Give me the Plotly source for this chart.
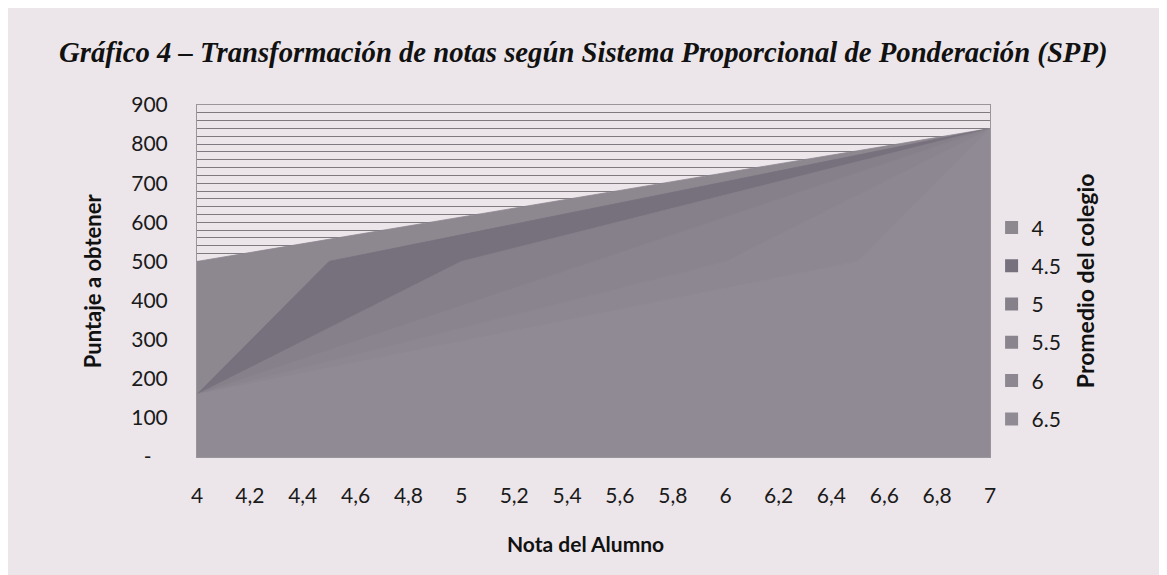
import plotly.graph_objects as go

# Nota del alumno (x) at breakpoints
notas = [4.0, 4.5, 5.0, 5.5, 6.0, 6.5, 7.0]

# Promedio del colegio series (puntaje a obtener)
serie_4 = [500, 557, 613, 670, 727, 783, 840]
serie_45 = [160, 500, 568, 636, 704, 772, 840]
serie_5 = [160, 330, 500, 585, 670, 755, 840]
serie_55 = [160, 273, 387, 500, 613, 727, 840]
serie_6 = [160, 245, 330, 415, 500, 670, 840]
serie_65 = [160, 228, 296, 364, 432, 500, 840]

series_names = ["4", "4.5", "5", "5.5", "6", "6.5"]
series_values = [serie_4, serie_45, serie_5, serie_55, serie_6, serie_65]
series_colors = ["#8d8790", "#77707d", "#86808a", "#8a848e", "#8d8791", "#908a94"]

x_ticks = [4.0, 4.2, 4.4, 4.6, 4.8, 5.0, 5.2, 5.4, 5.6, 5.8, 6.0, 6.2, 6.4, 6.6, 6.8, 7.0]
x_labels = ["4", "4,2", "4,4", "4,6", "4,8", "5", "5,2", "5,4", "5,6", "5,8",
            "6", "6,2", "6,4", "6,6", "6,8", "7"]
y_ticks = [0, 100, 200, 300, 400, 500, 600, 700, 800, 900]
y_labels = ["-\u00a0\u00a0\u00a0", "100", "200", "300", "400", "500", "600", "700", "800", "900"]

BG = "#ece6ea"
FONT = "Lato"

fig = go.Figure()
for name, vals, col in zip(series_names, series_values, series_colors):
    fig.add_trace(go.Scatter(
        x=notas, y=vals, name=name, mode="lines",
        fill="tozeroy", fillcolor=col,
        line=dict(color=col, width=0.8),
        showlegend=False,
    ))
# legend entries as square swatches
for name, col in zip(series_names, series_colors):
    fig.add_trace(go.Scatter(
        x=[None], y=[None], name=name, mode="markers",
        marker=dict(symbol="square", size=13, color=col),
        legendgroup=name, showlegend=True,
    ))

fig.update_layout(
    width=1159, height=567,
    paper_bgcolor=BG, plot_bgcolor=BG,
    margin=dict(l=189, r=177, t=97, b=118),
    font=dict(family=FONT, size=21, color="#1a1a1a"),
    showlegend=True,
    legend=dict(
        x=1.002, xanchor="left", y=0.38, yanchor="middle",
        bgcolor="rgba(0,0,0,0)", font=dict(family=FONT, size=21, color="#1a1a1a"),
        tracegroupgap=8, itemwidth=30,
    ),
    annotations=[
        dict(text="<b><i>Gráfico 4 – Transformación de notas según Sistema Proporcional de Ponderación (SPP)</i></b>",
             xref="paper", yref="paper", x=-0.1765, y=1.15, xanchor="left", yanchor="middle",
             showarrow=False, font=dict(family="Liberation Serif", size=28.7, color="#111111")),
        dict(text="<b>Puntaje a obtener</b>", xref="paper", yref="paper",
             x=-0.132, y=0.5, xanchor="center", yanchor="middle", textangle=-90,
             showarrow=False, font=dict(family=FONT, size=22, color="#111111")),
        dict(text="<b>Nota del Alumno</b>", xref="paper", yref="paper",
             x=0.49, y=-0.245, xanchor="center", yanchor="middle",
             showarrow=False, font=dict(family=FONT, size=21, color="#111111")),
        dict(text="<b>Promedio del colegio</b>", xref="paper", yref="paper",
             x=1.12, y=0.50, xanchor="center", yanchor="middle", textangle=-90,
             showarrow=False, font=dict(family=FONT, size=23, color="#111111")),
    ],
)

fig.update_xaxes(
    range=[4, 7], tickvals=x_ticks, ticktext=x_labels,
    showgrid=False, zeroline=False, ticks="", ticklabelstandoff=20,
    showline=True, linecolor="#9a949b", linewidth=1, mirror=True,
    tickfont=dict(family=FONT, size=21, color="#1a1a1a"),
)
fig.update_yaxes(
    range=[0, 900], tickmode="array", tickvals=y_ticks, ticktext=y_labels,
    showgrid=True, gridcolor="#7f7980", gridwidth=1,
    zeroline=False, ticks="", ticklabelstandoff=24,
    showline=True, linecolor="#9a949b", linewidth=1, mirror=True,
    tickfont=dict(family=FONT, size=21, color="#1a1a1a"),
    minor=dict(dtick=20, tick0=0, showgrid=True, gridcolor="#7f7980", gridwidth=1),
)

fig.write_html("out.html")
